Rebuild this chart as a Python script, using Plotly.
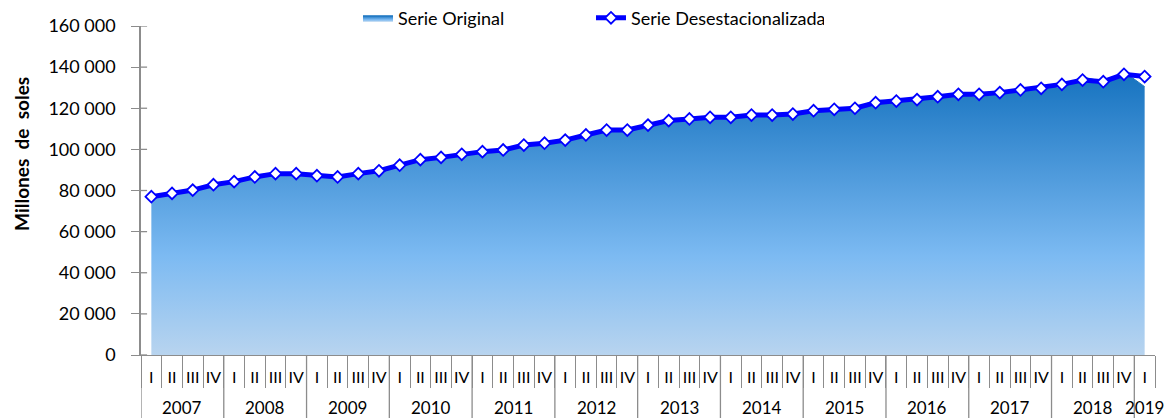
import plotly.graph_objects as go

years = [str(y) for y in range(2007, 2020)]
quarters = ["I", "II", "III", "IV"]

# Serie desestacionalizada (millones de soles)
sa = [77000, 78600, 80200, 82800, 84300, 86600, 88200, 88200, 87200, 86600,
      88200, 89600, 92300, 95000, 96100, 97600, 98900, 99700, 102100, 103000,
      104500, 107000, 109400, 109400, 111800, 114000, 114800, 115600, 115600, 116700,
      116700, 117200, 118800, 119500, 120000, 122700, 123500, 124200, 125600, 126800,
      126800, 127600, 128900, 129700, 131600, 133700, 132900, 136500, 135400]

# Serie original (millones de soles)
orig = [77000, 79600, 80200, 82800, 84300, 87600, 88200, 88200, 87200, 86600,
        88200, 89600, 92300, 95000, 96100, 97600, 98900, 99700, 102100, 103000,
        104500, 107000, 109400, 109400, 110000, 114000, 114800, 115600, 115600, 116700,
        117200, 117500, 118800, 119500, 120000, 124000, 123500, 124200, 125600, 126800,
        125000, 127600, 128900, 131200, 129500, 135300, 132900, 137800, 130500]

yr_lab, q_lab = [], []
for y in years:
    for q in quarters:
        if len(yr_lab) < len(sa):
            yr_lab.append(y)
            q_lab.append(q)
cats = [f"{y} {q}" for y, q in zip(yr_lab, q_lab)]

FONT = "Lato"
GRAY = "#8c8c8c"

fig = go.Figure()
fig.add_trace(go.Scatter(
    x=cats, y=orig, name="Serie Original",
    mode="lines", fill="tozeroy",
    line=dict(color="#1c74c0", width=1),
    fillgradient=dict(type="vertical",
                      colorscale=[[0, "#b8d4ef"], [0.35, "#7cbaf2"], [1, "#1572bf"]],
                      start=0, stop=max(orig)),
))
fig.add_trace(go.Scatter(
    x=cats, y=sa, name="Serie Desestacionalizada",
    mode="lines+markers",
    line=dict(color="#0000ff", width=5),
    marker=dict(symbol="diamond", size=9, color="white",
                line=dict(color="#0000ff", width=1.8)),
))

ymax = 160000
step = 20000
tickvals = list(range(0, ymax + 1, step))
shapes = [dict(type="line", xref="x domain", yref="y", x0=0, x1=0.006, y0=v, y1=v,
               line=dict(color=GRAY, width=1.3)) for v in tickvals]

# year groups: divider at the start of each year, label centred under its quarters
annotations = []
for y in years:
    idx = [i for i, yy in enumerate(yr_lab) if yy == y]
    if not idx:
        continue
    start = idx[0] - 0.5
    shapes.append(dict(type="line", xref="x", yref="paper", x0=start, x1=start,
                       y0=0, y1=-0.2, line=dict(color=GRAY, width=1.3)))
    annotations.append(dict(text=y, xref="x", yref="paper", x=(idx[0] + idx[-1]) / 2,
                            y=-0.161, xanchor="center", yanchor="middle", showarrow=False,
                            font=dict(family=FONT, size=17, color="#000000")))

annotations.append(dict(text="<b>Millones&nbsp;&nbsp;de&nbsp;&nbsp;soles</b>", textangle=-90,
                        xref="paper", yref="paper", x=-0.1174, y=0.611,
                        xanchor="center", yanchor="middle", showarrow=False,
                        font=dict(family=FONT, size=19, color="#000000")))

fig.update_layout(
    width=1164, height=418,
    margin=dict(l=141, r=9, t=26, b=63, autoexpand=False),
    paper_bgcolor="white", plot_bgcolor="white",
    separators=". ",
    font=dict(family=FONT, size=16, color="#000000"),
    showlegend=True,
    legend=dict(orientation="h", x=0.214, xanchor="left", y=1.024, yanchor="middle",
                font=dict(family=FONT, size=18), entrywidth=188,
                bgcolor="rgba(0,0,0,0)"),
    shapes=shapes,
    annotations=annotations,
    xaxis=dict(
        type="category", automargin=False,
        range=[-0.5, len(sa) - 0.5], autorange=False,
        tickmode="array", tickvals=cats, ticktext=q_lab, tickangle=0,
        showline=True, linecolor=GRAY, linewidth=1.3,
        ticks="outside", tickson="boundaries", ticklen=32, tickcolor=GRAY, tickwidth=1.3,
        ticklabelstandoff=8,
        tickfont=dict(family=FONT, size=16),
        showgrid=False, zeroline=False,
    ),
    yaxis=dict(
        range=[0, ymax], tickvals=tickvals, tickformat=",.0f", automargin=False,
        showline=True, linecolor=GRAY, linewidth=1.5,
        ticks="outside", ticklen=8, tickcolor=GRAY, tickwidth=1.3,
        ticklabelstandoff=12,
        tickfont=dict(family=FONT, size=18),
        showgrid=False, zeroline=False,
    ),
)

fig.write_html("out.html", config={"displayModeBar": False},
               post_script="document.body.style.margin='0';")
